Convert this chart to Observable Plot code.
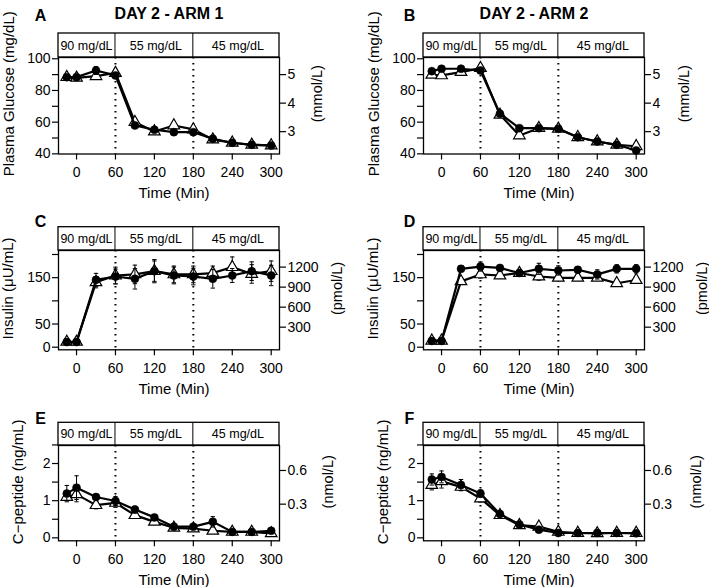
<!DOCTYPE html>
<html><head><meta charset="utf-8">
<script src="https://cdn.jsdelivr.net/npm/d3@7"></script>
<script src="https://cdn.jsdelivr.net/npm/@observablehq/plot@0.6"></script>
<style>
body{margin:0;background:white}
#fig{position:relative;width:709px;height:587px;overflow:hidden;background:white;font-family:"Liberation Sans",Arial,Helvetica,sans-serif}
.panel{position:absolute}
.panel svg{background:transparent !important}
</style>
</head><body><div id="fig"></div>
<script>
// ---------- data ----------
const times = [-15, 0, 30, 60, 90, 120, 150, 180, 210, 240, 270, 300];
const xTicks = [0, 60, 120, 180, 240, 300];
const clampLabels = ["90 mg/dL", "55 mg/dL", "45 mg/dL"];
const clampBoundaries = [60, 180];
const panelLetters = ["A", "B", "C", "D", "E", "F"];
const armTitles = ["DAY 2 - ARM 1", "DAY 2 - ARM 2"];

// Plasma glucose (mg/dL)
const glucoseArm1Circle = [88.4, 88.4, 92.6, 89.5, 57.9, 55.2, 53.7, 53.7, 49.5, 47.0, 45.7, 45.3];
const glucoseArm1CircleSE = [1, 1, 2.5, 1.5, 1.5, 1.5, 1.5, 1.5, 1, 1, 1, 1];
const glucoseArm1Tri = [88.4, 88.0, 89.0, 91.0, 60.0, 54.1, 57.9, 55.4, 49.0, 47.0, 45.7, 45.3];
const glucoseArm1TriSE = [1, 1, 1.5, 2, 1.5, 1.5, 1.5, 1.5, 1, 1, 1, 1];
const glucoseArm2Circle = [92.2, 93.7, 93.7, 92.6, 65.3, 56.2, 56.2, 55.8, 50.5, 47.8, 45.7, 42.1];
const glucoseArm2CircleSE = [1, 1, 1, 1.5, 1.5, 1.5, 1, 1, 1, 1, 1, 1];
const glucoseArm2Tri = [89.9, 89.5, 91.6, 94.1, 64.6, 51.6, 56.2, 55.8, 50.5, 47.8, 45.7, 44.8];
const glucoseArm2TriSE = [1, 1, 1, 2, 1.5, 1.5, 1, 1, 1, 1, 1, 1];

// Insulin (µU/mL)
const insulinArm1Circle = [11.0, 11.0, 145.3, 152.5, 147.5, 164.0, 154.7, 152.5, 147.5, 154.7, 164.0, 154.7];
const insulinArm1CircleSE = [3, 3, 14, 16, 22, 25, 18, 18, 20, 15, 20, 22];
const insulinArm1Tri = [11.5, 11.5, 140.0, 154.7, 157.0, 164.0, 157.0, 157.0, 160.0, 172.7, 158.0, 164.0];
const insulinArm1TriSE = [3, 3, 12, 18, 20, 22, 18, 18, 15, 22, 20, 22];
const insulinArm2Circle = [13.5, 13.5, 169.0, 174.0, 171.0, 160.0, 169.0, 165.5, 167.0, 157.0, 169.0, 169.0];
const insulinArm2CircleSE = [2, 2, 6, 10, 6, 6, 12, 10, 7, 10, 9, 9];
const insulinArm2Tri = [14.0, 14.0, 142.0, 157.0, 154.7, 160.0, 152.5, 149.6, 149.6, 149.6, 138.0, 145.0];
const insulinArm2TriSE = [2, 2, 5, 8, 5, 5, 8, 6, 5, 5, 6, 6];

// C-peptide (ng/mL)
const cpepArm1Circle = [1.19, 1.35, 1.10, 0.99, 0.76, 0.55, 0.30, 0.30, 0.43, 0.16, 0.16, 0.19];
const cpepArm1CircleSE = [0.22, 0.32, 0.07, 0.12, 0.09, 0.06, 0.04, 0.04, 0.14, 0.03, 0.03, 0.03];
const cpepArm1Tri = [1.10, 1.17, 0.88, 0.94, 0.61, 0.43, 0.27, 0.25, 0.19, 0.16, 0.16, 0.12];
const cpepArm1TriSE = [0.08, 0.20, 0.10, 0.12, 0.05, 0.05, 0.03, 0.03, 0.03, 0.02, 0.02, 0.02];
const cpepArm2Circle = [1.57, 1.64, 1.42, 1.19, 0.64, 0.36, 0.22, 0.13, 0.13, 0.13, 0.13, 0.12];
const cpepArm2CircleSE = [0.15, 0.16, 0.15, 0.10, 0.04, 0.04, 0.03, 0.02, 0.02, 0.02, 0.02, 0.02];
const cpepArm2Tri = [1.42, 1.52, 1.37, 1.06, 0.61, 0.34, 0.30, 0.16, 0.13, 0.12, 0.13, 0.13];
const cpepArm2TriSE = [0.13, 0.18, 0.10, 0.10, 0.04, 0.04, 0.04, 0.02, 0.02, 0.02, 0.02, 0.02];

// Axis ticks and labels
const glucoseTicks = [40, 50, 60, 70, 80, 90, 100];
const glucoseTickLabels = ["40", "", "60", "", "80", "", "100"];
const mmolTicks = [3, 4, 5];
const mmolTickLabels = ["3", "4", "5"];
const insulinTicks = [0, 50, 100, 150, 200];
const insulinTickLabels = ["0", "50", "", "150", ""];
const pmolTicks = [300, 600, 900, 1200];
const pmolTickLabels = ["300", "600", "900", "1200"];
const cpepTicks = [0, 0.5, 1, 1.5, 2, 2.5];
const cpepTickLabels = ["0", "", "1", "", "2", ""];
const nmolTicks = [0.3, 0.6];
const nmolTickLabels = ["0.3", "0.6"];

// unit conversions (left unit per right unit)
const mgPerMmol = 18;
const pmolPerUU = 6.945;
const nmolPerNg = 0.331;

// ---------- layout ----------
const cols = [
  {left: 0, width: 354, mL: 58, mR: 75, letterDx: -18},
  {left: 355, width: 354, mL: 68, mR: 65, letterDx: -14}
];
const rowsCfg = [
  {top: 0, height: 195, mT: 57, mB: 41.5, header: 24, letterDy: -42,
   yDomain: [39.9, 100.8], leftTicks: glucoseTicks, leftLabels: glucoseTickLabels,
   rightTicks: mmolTicks.map(v => v * mgPerMmol), rightLabels: mmolTickLabels,
   yTitle: "Plasma Glucose (mg/dL)", rTitle: "(mmol/L)", yTitleDx: -49, rTitleDx: [38, 40],
   data: [[glucoseArm1Circle, glucoseArm1CircleSE, glucoseArm1Tri, glucoseArm1TriSE],
          [glucoseArm2Circle, glucoseArm2CircleSE, glucoseArm2Tri, glucoseArm2TriSE]]},
  {top: 195, height: 195, mT: 55, mB: 40.7, header: 23.3, letterDy: -29,
   yDomain: [-5.6, 208.6], leftTicks: insulinTicks, leftLabels: insulinTickLabels,
   rightTicks: pmolTicks.map(v => v / pmolPerUU), rightLabels: pmolTickLabels,
   yTitle: "Insulin (μU/mL)", rTitle: "(pmol/L)", yTitleDx: -50, rTitleDx: [58, 58],
   data: [[insulinArm1Circle, insulinArm1CircleSE, insulinArm1Tri, insulinArm1TriSE],
          [insulinArm2Circle, insulinArm2CircleSE, insulinArm2Tri, insulinArm2TriSE]]},
  {top: 390, height: 197, mT: 55, mB: 46.7, header: 22.7, letterDy: -27,
   yDomain: [-0.08, 2.485], leftTicks: cpepTicks, leftLabels: cpepTickLabels,
   rightTicks: nmolTicks.map(v => v / nmolPerNg), rightLabels: nmolTickLabels,
   yTitle: "C\u2212peptide (ng/mL)", rTitle: "(nmol/L)", yTitleDx: -40, rTitleDx: [49, 52],
   data: [[cpepArm1Circle, cpepArm1CircleSE, cpepArm1Tri, cpepArm1TriSE],
          [cpepArm2Circle, cpepArm2CircleSE, cpepArm2Tri, cpepArm2TriSE]]}
];

const capSymbol = {draw(ctx, size) { const w = Math.sqrt(size / Math.PI); ctx.moveTo(-w, 0); ctx.lineTo(w, 0); }};

function headerMark(h) {
  return (index, scales, values, dim) => {
    const x = scales.x;
    const g = d3.create("svg:g");
    const x0 = dim.marginLeft, x1 = dim.width - dim.marginRight;
    const yb = dim.marginTop, yt = yb - h;
    g.append("rect").attr("x", x0).attr("y", yt).attr("width", x1 - x0).attr("height", h)
      .attr("fill", "white").attr("stroke", "black").attr("stroke-width", 1.3);
    const edges = [x0, ...clampBoundaries.map(b => x(b)), x1];
    clampBoundaries.forEach(b => {
      g.append("line").attr("x1", x(b)).attr("x2", x(b)).attr("y1", yt).attr("y2", yb)
        .attr("stroke", "black").attr("stroke-width", 1);
    });
    clampLabels.forEach((t, i) => {
      g.append("text").attr("x", (edges[i] + edges[i + 1]) / 2 + (i === 0 ? 0 : 2)).attr("y", yt + h / 2)
        .attr("dy", "0.36em").attr("text-anchor", "middle").attr("font-size", 12.5).attr("fill", "black").text(t);
    });
    return g.node();
  };
}

function seriesRows(vals, se) { return times.map((t, i) => ({t, v: vals[i], se: se[i]})); }

function seriesMarks(rows, kind) {
  const filled = kind === "circle";
  return [
    Plot.ruleX(rows, {x: "t", y1: d => d.v - d.se, y2: d => d.v + d.se, stroke: "black", strokeWidth: 1}),
    Plot.dot(rows, {x: "t", y: d => d.v + d.se, symbol: capSymbol, r: 2.2, stroke: "black", strokeWidth: 1, fill: "none"}),
    Plot.dot(rows, {x: "t", y: d => d.v - d.se, symbol: capSymbol, r: 2.2, stroke: "black", strokeWidth: 1, fill: "none"}),
    Plot.line(rows, {x: "t", y: "v", stroke: "black", strokeWidth: 2.2}),
    filled
      ? Plot.dot(rows, {x: "t", y: "v", r: 4, fill: "black", stroke: "black", strokeWidth: 0.5})
      : Plot.dot(rows, {x: "t", y: "v", symbol: "triangle", r: 4.3, fill: "white", stroke: "black", strokeWidth: 1.2})
  ];
}

const fig = document.getElementById("fig");
rowsCfg.forEach((R, ri) => {
  cols.forEach((C, ci) => {
    const [circ, circSE, tri, triSE] = R.data[ci];
    const letter = panelLetters[ri * 2 + ci];
    const marks = [
      headerMark(R.header),
      Plot.ruleX(clampBoundaries, {stroke: "black", strokeWidth: 2, strokeDasharray: "1.6,4.4"}),
      ...seriesMarks(seriesRows(tri, triSE), "triangle"),
      ...seriesMarks(seriesRows(circ, circSE), "circle"),
      Plot.frame({stroke: "black", strokeWidth: 1.3}),
      Plot.axisX(xTicks, {tickSize: 6, tickPadding: 7, label: null, strokeWidth: 1.2, fontSize: 14}),
      Plot.axisY(R.leftTicks, {anchor: "left", tickSize: 6, tickPadding: 2, label: null, strokeWidth: 1.2, fontSize: 14,
        tickFormat: d => R.leftLabels[R.leftTicks.indexOf(d)]}),
      Plot.axisY(R.rightTicks, {anchor: "right", tickSize: 6, tickPadding: 2, label: null, strokeWidth: 1.2, fontSize: 14,
        tickFormat: d => R.rightLabels[R.rightTicks.indexOf(d)]}),
      Plot.text(["Time (Min)"], {frameAnchor: "bottom", dx: 5, dy: 39.5, fontSize: 15, textAnchor: "middle", lineAnchor: "middle"}),
      Plot.text([R.yTitle], {frameAnchor: "left", dx: R.yTitleDx, dy: -R.header / 2, rotate: -90, fontSize: 15, textAnchor: "middle", lineAnchor: "middle"}),
      Plot.text([R.rTitle], {frameAnchor: "right", dx: R.rTitleDx[ci], dy: -R.header / 2, rotate: -90, fontSize: 14.5, textAnchor: "middle", lineAnchor: "middle"}),
      Plot.text([letter], {frameAnchor: "top-left", dx: C.letterDx, dy: R.letterDy, fontWeight: "bold", fontSize: 16, textAnchor: "middle", lineAnchor: "middle"})
    ];
    if (ri === 0) {
      marks.push(Plot.text([armTitles[ci]], {frameAnchor: "top", dy: -44, fontWeight: "bold", fontSize: 16, textAnchor: "middle", lineAnchor: "middle"}));
    }
    const chart = Plot.plot({
      width: C.width, height: R.height,
      marginLeft: C.mL, marginRight: C.mR, marginTop: R.mT, marginBottom: R.mB,
      x: {domain: [-27.8, 312.8]},
      y: {domain: R.yDomain},
      style: {fontFamily: '"Liberation Sans", Arial, Helvetica, sans-serif', fontSize: "14px", color: "black", background: "transparent", overflow: "visible"},
      marks
    });
    const wrap = document.createElement("div");
    wrap.className = "panel";
    wrap.style.left = C.left + "px";
    wrap.style.top = R.top + "px";
    wrap.appendChild(chart);
    fig.appendChild(wrap);
  });
});
</script>
</body></html>
